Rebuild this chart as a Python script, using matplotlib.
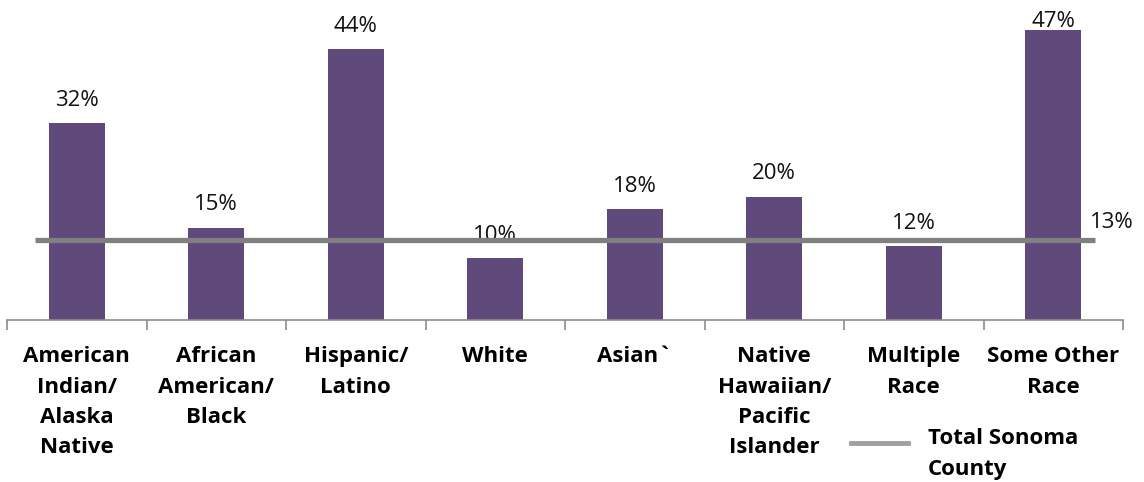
import numpy as np
import matplotlib.pyplot as plt
from matplotlib.lines import Line2D

categories = ['American\nIndian/\nAlaska\nNative', 'African\nAmerican/\nBlack',
              'Hispanic/\nLatino', 'White', 'Asian`', 'Native\nHawaiian/\nPacific\nIslander',
              'Multiple\nRace', 'Some Other\nRace']
values = [32, 15, 44, 10, 18, 20, 12, 47]
county_total = 13

bar_color = '#604a7b'
line_color = '#808080'

plt.rcParams['font.family'] = ['Open Sans', 'DejaVu Sans']

fig = plt.figure(figsize=(11.44, 4.82), dpi=100)
ax = fig.add_axes([7/1144, 1 - 320/482, 1116/1144, 308/482])

x = np.arange(len(categories))
ax.bar(x, values, width=0.4, color=bar_color, zorder=2)
ax.plot([-0.3, len(categories) - 0.7], [county_total, county_total],
        color=line_color, lw=3.8, zorder=5, solid_capstyle='butt')

# data labels (Excel pushes the tallest one down to stay inside the plot)
for xi, v in zip(x, values):
    ax.text(xi, min(v + 2.0, 46.7), f'{v}%', ha='center', va='bottom',
            fontsize=16, color='#111111', zorder=4)
ax.text(len(categories) - 0.74, county_total + 1.1, f'{county_total}%',
        ha='left', va='bottom', fontsize=16, color='#111111')

ax.set_xlim(-0.5, len(categories) - 0.5)
ax.set_ylim(0, 50)
for s in ['top', 'right', 'left']:
    ax.spines[s].set_visible(False)
ax.spines['bottom'].set_color('#8c8c8c')
ax.spines['bottom'].set_linewidth(1.2)
ax.set_yticks([])
ax.set_xticks(np.arange(-0.5, len(categories)), minor=False)
ax.set_xticklabels([])
ax.tick_params(axis='x', length=7, color='#8c8c8c', width=1.2)

for xi, c in zip(x, categories):
    ax.text(xi, -4.3, c, ha='center', va='top', fontsize=16, fontweight='bold',
            linespacing=1.58, transform=ax.transData)

# legend
fig.add_artist(Line2D([851/1144, 908/1144], [1 - 443/482, 1 - 443/482],
                      color='#a0a0a0', lw=3.5))
fig.text(928/1144, 1 - 438/482, 'Total Sonoma', fontsize=16, fontweight='bold', va='center')
fig.text(928/1144, 1 - 469/482, 'County', fontsize=16, fontweight='bold', va='center')

fig.savefig('out.png', dpi=100)
